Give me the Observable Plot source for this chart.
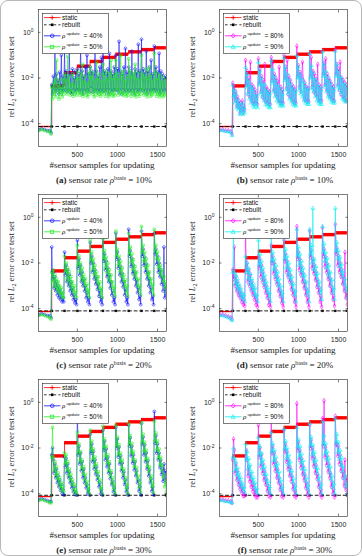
<!DOCTYPE html>
<html>
<head>
<meta charset="utf-8">
<script src="https://cdn.jsdelivr.net/npm/d3@7"></script>
<script src="https://cdn.jsdelivr.net/npm/@observablehq/plot@0.6"></script>
<style>
  body { margin: 0; background: #fff; }
  #fig { position: relative; width: 362px; height: 556px; background: #fff; overflow: hidden; }
  #fig::after { content: ""; position: absolute; inset: 0; border: 1px solid #b8b8b8; border-radius: 8px; pointer-events: none; }
  .cell { position: absolute; width: 181px; height: 185px; }
  .cell > svg { position: absolute; left: 0; top: 0; overflow: visible; }
  .ylab { position: absolute; left: 11px; top: 77px; transform: translate(-50%, -50%) rotate(-90deg);
          font: 8.6px "Liberation Serif", "DejaVu Serif", serif; white-space: nowrap; color: #222; }
  .xlab { position: absolute; left: 102px; top: 165px; transform: translate(-50%, -50%);
          font: 9px "Liberation Serif", "DejaVu Serif", serif; white-space: nowrap; color: #222; }
  .cap { position: absolute; left: 104px; top: 180px; transform: translate(-50%, -50%);
         font: 9px "Liberation Serif", "DejaVu Serif", serif; white-space: nowrap; color: #222; }
  .sup { font-size: 6px; position: relative; top: -3.5px; }
  .sub { font-size: 6px; position: relative; top: 2px; }
  .legend { position: absolute; left: 42px; top: 13px; }
</style>
</head>
<body>
<div id="fig"></div>
<script>
// sample counts at which the update errors are recorded
const samples = [20, 55, 90, 125, 155, 172,
  180, 190, 200, 210, 220, 230, 240, 250, 260, 270, 280, 290, 300, 310, 320, 330,
  340, 350, 360, 370, 380, 390, 400, 410, 420, 430, 440, 450, 460, 470, 480, 490,
  500, 510, 520, 530, 540, 550, 560, 570, 580, 590, 600, 610, 620, 630, 640, 650,
  660, 670, 680, 690, 700, 710, 720, 730, 740, 750, 760, 770, 780, 790, 800, 810,
  820, 830, 840, 850, 860, 870, 880, 890, 900, 910, 920, 930, 940, 950, 960, 970,
  980, 990, 1000, 1010, 1020, 1030, 1040, 1050, 1060, 1070, 1080, 1090, 1100, 1110, 1120, 1130,
  1140, 1150, 1160, 1170, 1180, 1190, 1200, 1210, 1220, 1230, 1240, 1250, 1260, 1270, 1280, 1290,
  1300, 1310, 1320, 1330, 1340, 1350, 1360, 1370, 1380, 1390, 1400, 1410, 1420, 1430, 1440, 1450,
  1460, 1470, 1480, 1490, 1500, 1510, 1520, 1530, 1540, 1550, 1560, 1570, 1580, 1590, 1600, 1610];

const xTicks = [500, 1000, 1500];
const yTicks = [1e-4, 1e-2, 1];

// static basis: piecewise constant error between basis refreshes
const staticX = [20, 180, 340, 500, 660, 820, 980, 1140, 1300, 1460, 1610];
const staticLevel = [7.5e-5, 4.5e-3, 1.7e-2, 3.3e-2, 5.3e-2, 8e-2, 0.11, 0.14, 0.175, 0.21];

// rebuilt basis: evaluated at each refresh, one level per basis sensor rate (10%, 20%, 30%)
const rebuiltX = [20, 180, 340, 500, 660, 820, 980, 1140, 1300, 1460, 1605];
const rebuiltLevels = [7.5e-5, 8e-5, 8.5e-5];

// ---- basis rate 10% ----
const upd40_r10 = [5.5e-5, 6e-5, 5.5e-5, 5e-5, 5e-5, 4e-5,
  5e-3, 2e-3, 1.2e-2, 3e-3, 0.2, 2.5e-3, 1.5e-2, 3e-3, 8e-3, 2e-3, 1.8e-2, 3e-3, 0.1, 2.5e-3, 1.2e-2, 3e-3,
  0.14, 3e-3, 2e-2, 2.5e-3, 1.2e-2, 3e-3, 0.15, 2.5e-3, 1.5e-2, 2e-3, 2.5e-2, 3e-3, 1e-2, 2.5e-3, 2e-2, 3e-3,
  2.5e-2, 3e-3, 1.5e-2, 2.5e-3, 0.2, 3e-3, 2e-2, 2e-3, 1.2e-2, 3e-3, 3e-2, 2.5e-3, 0.1, 3e-3, 1.5e-2, 2.5e-3,
  3e-2, 3.5e-3, 2e-2, 2.5e-3, 1.5e-2, 3e-3, 0.25, 2.5e-3, 2e-2, 3e-3, 1.2e-2, 2.5e-3, 3e-2, 3e-3, 0.08, 2.5e-3,
  0.3, 3e-3, 2e-2, 2.5e-3, 1.5e-2, 3e-3, 2.5e-2, 2e-3, 0.12, 3e-3, 2e-2, 2.5e-3, 1.5e-2, 3e-3, 3e-2, 3e-3,
  0.1, 3e-3, 2.5e-2, 2.5e-3, 0.4, 3e-3, 2e-2, 2e-3, 1.5e-2, 3e-3, 3e-2, 2.5e-3, 0.2, 3e-3, 1.8e-2, 2.5e-3,
  3e-2, 3e-3, 2e-2, 2.5e-3, 0.15, 3e-3, 1.5e-2, 2e-3, 2.5e-2, 3e-3, 1.8e-2, 2.5e-3, 0.3, 3e-3, 2e-2, 3e-3,
  0.5, 3e-3, 2.5e-2, 2.5e-3, 1.8e-2, 3e-3, 0.15, 2e-3, 2e-2, 3e-3, 3e-2, 2.5e-3, 0.06, 3e-3, 1.5e-2, 3e-3,
  0.25, 3e-3, 3e-2, 2.5e-3, 1.8e-2, 3e-3, 0.12, 2e-3, 2e-2, 3e-3, 1.5e-2, 2.5e-3, 1e-2, 3e-3, 1.2e-2, 3e-3];
const upd50_r10 = [5e-5, 5.5e-5, 5e-5, 4.5e-5, 4.5e-5, 3.5e-5,
  4e-3, 1.2e-3, 6e-3, 2e-3, 9e-3, 1.5e-3, 0.06, 2.5e-3, 5e-3, 1.2e-3, 8e-3, 2e-3, 4e-3, 1.5e-3, 1e-2, 2e-3,
  1.5e-2, 3e-3, 8e-3, 2e-3, 0.09, 2.5e-3, 1.2e-2, 1.8e-3, 6e-3, 2.5e-3, 1.5e-2, 1.6e-3, 5e-3, 2e-3, 9e-3, 1.8e-3,
  2e-2, 2.5e-3, 1e-2, 1.8e-3, 1.5e-2, 2e-3, 4e-2, 1.6e-3, 7e-3, 2.5e-3, 1.2e-2, 1.8e-3, 6e-3, 1.5e-3, 1.8e-2, 2e-3,
  3e-2, 3e-3, 1.2e-2, 2e-3, 1.8e-2, 1.5e-3, 8e-3, 2.5e-3, 5e-2, 1.8e-3, 1e-2, 2e-3, 1.5e-2, 1.6e-3, 7e-3, 2e-3,
  4e-2, 2.5e-3, 1.4e-2, 1.6e-3, 2e-2, 2.2e-3, 9e-3, 1.5e-3, 1.6e-2, 2e-3, 6e-2, 1.8e-3, 1e-2, 1.6e-3, 1.4e-2, 1.8e-3,
  6e-2, 3e-3, 1.6e-2, 1.8e-3, 1e-2, 2.5e-3, 0.1, 2e-3, 1.4e-2, 1.7e-3, 2e-2, 2e-3, 8e-3, 1.6e-3, 1.2e-2, 1.8e-3,
  7e-2, 2.5e-3, 2e-2, 1.6e-3, 1.2e-2, 2.2e-3, 1.6e-2, 1.8e-3, 4e-2, 1.5e-3, 1e-2, 2e-3, 1.8e-2, 1.6e-3, 9e-3, 2e-3,
  0.1, 3e-3, 1.6e-2, 1.8e-3, 1.2e-2, 2e-3, 2.5e-2, 1.5e-3, 1e-2, 2.2e-3, 3e-2, 1.6e-3, 1.4e-2, 1.8e-3, 8e-3, 2e-3,
  0.12, 2.5e-3, 1.8e-2, 1.6e-3, 1e-2, 2e-3, 1.5e-2, 1.5e-3, 8e-3, 1.8e-3, 1.2e-2, 1.5e-3, 6e-3, 1.8e-3, 9e-3, 2e-3];
const upd80_r10 = [5.5e-5, 5.5e-5, 5e-5, 5e-5, 4.5e-5, 3.5e-5,
  6e-3, 1.5e-3, 4e-3, 1e-3, 2.5e-3, 6e-4, 1.5e-3, 5e-4, 1e-3, 3e-4, 8e-4, 4e-4, 1e-3, 3e-4, 6e-4, 4e-4,
  0.06, 5e-3, 2e-2, 2e-3, 1e-2, 1.5e-3, 0.05, 1e-3, 5e-3, 8e-4, 4e-3, 7e-4, 3e-3, 8e-4, 2e-3, 7e-4,
  0.07, 6e-3, 2.5e-2, 2.5e-3, 1.2e-2, 1.5e-3, 8e-3, 1.2e-3, 0.04, 9e-4, 4e-3, 8e-4, 3e-3, 7e-4, 2.5e-3, 7e-4,
  0.08, 8e-3, 0.05, 3e-3, 1.5e-2, 2e-3, 1e-2, 1.5e-3, 7e-3, 1e-3, 0.03, 8e-4, 4e-3, 8e-4, 3e-3, 8e-4,
  0.1, 1e-2, 3e-2, 3.5e-3, 0.06, 2e-3, 1.2e-2, 1.5e-3, 8e-3, 1.2e-3, 5e-3, 9e-4, 4e-3, 8e-4, 3e-3, 8e-4,
  0.25, 1.2e-2, 3.5e-2, 4e-3, 1.8e-2, 2.5e-3, 1.2e-2, 0.05, 8e-3, 1.2e-3, 6e-3, 1e-3, 4e-3, 9e-4, 3.5e-3, 9e-4,
  0.12, 1.2e-2, 0.08, 4e-3, 2e-2, 2.5e-3, 1.5e-2, 2e-3, 9e-3, 1.5e-3, 0.04, 1e-3, 5e-3, 1e-3, 4e-3, 1e-3,
  0.15, 1.5e-2, 4.5e-2, 5e-3, 0.07, 3e-3, 1.5e-2, 2e-3, 1e-2, 1.5e-3, 7e-3, 1.2e-3, 5e-3, 1e-3, 4e-3, 1e-3,
  0.18, 1.5e-2, 4e-2, 5e-3, 2.5e-2, 3e-3, 0.05, 2e-3, 1e-2, 1.5e-3, 8e-3, 1.2e-3, 6e-3, 1e-3, 5e-3, 1e-3];
const upd90_r10 = [5e-5, 5e-5, 4.5e-5, 4.5e-5, 4e-5, 3e-5,
  5e-3, 1.5e-3, 3e-3, 8e-4, 2e-3, 5e-4, 1.2e-3, 4e-4, 8e-4, 2.5e-4, 6e-4, 3e-4, 8e-4, 2.5e-4, 5e-4, 3e-4,
  3e-2, 4e-3, 1.5e-2, 2e-3, 8e-3, 1.2e-3, 5e-3, 8e-4, 4e-3, 6e-4, 3e-3, 5e-4, 2e-3, 6e-4, 1.5e-3, 5e-4,
  5e-2, 5e-3, 2e-2, 2e-3, 1e-2, 1.5e-3, 6e-3, 1e-3, 5e-3, 7e-4, 3e-3, 6e-4, 2.5e-3, 5e-4, 2e-3, 5e-4,
  6e-2, 6e-3, 2.5e-2, 2.5e-3, 1.2e-2, 1.5e-3, 8e-3, 1e-3, 5e-3, 8e-4, 4e-3, 6e-4, 3e-3, 6e-4, 2e-3, 6e-4,
  8e-2, 8e-3, 3e-2, 3e-3, 1.5e-2, 2e-3, 9e-3, 1.2e-3, 6e-3, 9e-4, 4e-3, 7e-4, 3e-3, 6e-4, 2.5e-3, 6e-4,
  0.1, 1e-2, 3e-2, 3e-3, 1.5e-2, 2e-3, 1e-2, 1.5e-3, 7e-3, 1e-3, 5e-3, 8e-4, 3.5e-3, 7e-4, 3e-3, 7e-4,
  0.12, 1e-2, 3.5e-2, 3.5e-3, 1.8e-2, 2.5e-3, 1e-2, 1.5e-3, 8e-3, 1e-3, 5e-3, 8e-4, 4e-3, 7e-4, 3e-3, 7e-4,
  0.15, 1.2e-2, 4e-2, 4e-3, 2e-2, 2.5e-3, 1.2e-2, 1.5e-3, 8e-3, 1.2e-3, 6e-3, 9e-4, 4e-3, 8e-4, 3e-3, 8e-4,
  0.15, 1.2e-2, 4e-2, 4e-3, 2e-2, 3e-3, 1.2e-2, 2e-3, 9e-3, 1.2e-3, 6e-3, 1e-3, 5e-3, 9e-4, 4e-3, 9e-4];

// ---- basis rate 20% ----
const upd40_r20 = [5.5e-5, 6e-5, 5.5e-5, 5e-5, 5e-5, 4e-5,
  0.05, 2e-3, 4e-3, 8e-4, 2.5e-3, 6e-4, 1.5e-3, 4e-4, 1e-3, 3e-4, 7e-4, 2.5e-4, 5e-4, 2e-4, 3e-4, 2e-4,
  3e-2, 3e-3, 8e-3, 1.5e-3, 5e-3, 1e-3, 3e-3, 6e-4, 1.5e-3, 4e-4, 8e-4, 2.5e-4, 4e-4, 1.8e-4, 2.5e-4, 1.5e-4,
  0.1, 6e-3, 1.5e-2, 3e-3, 8e-3, 1.5e-3, 4e-3, 1e-3, 2e-3, 6e-4, 1e-3, 3e-4, 5e-4, 2e-4, 3e-4, 1.5e-4,
  0.08, 1e-2, 2e-2, 4e-3, 1e-2, 2e-3, 5e-3, 1.2e-3, 2.5e-3, 7e-4, 1.2e-3, 3.5e-4, 6e-4, 2e-4, 3e-4, 1.5e-4,
  0.15, 1.2e-2, 2.5e-2, 5e-3, 1.2e-2, 2.5e-3, 6e-3, 1.5e-3, 3e-3, 8e-4, 1.5e-3, 4e-4, 6e-4, 2e-4, 3e-4, 1.5e-4,
  0.2, 1.5e-2, 3e-2, 6e-3, 1.5e-2, 3e-3, 7e-3, 1.5e-3, 3.5e-3, 9e-4, 1.5e-3, 4e-4, 7e-4, 2e-4, 3e-4, 1.5e-4,
  0.3, 2e-2, 3.5e-2, 7e-3, 1.6e-2, 3.5e-3, 8e-3, 2e-3, 4e-3, 1e-3, 1.8e-3, 5e-4, 8e-4, 2.5e-4, 3.5e-4, 1.5e-4,
  0.25, 2e-2, 4e-2, 8e-3, 1.8e-2, 4e-3, 9e-3, 2e-3, 4e-3, 1e-3, 2e-3, 5e-4, 8e-4, 2.5e-4, 3.5e-4, 1.5e-4,
  0.2, 2.5e-2, 4e-2, 9e-3, 2e-2, 4e-3, 1e-2, 2.5e-3, 5e-3, 1.2e-3, 2.5e-3, 6e-4, 0.05, 3e-4, 1e-3, 4e-4];
const upd50_r20 = [5e-5, 5.5e-5, 5e-5, 4.5e-5, 4e-5, 3.5e-5,
  4e-3, 1.5e-3, 5e-3, 1e-3, 3e-3, 8e-4, 2e-3, 6e-4, 1.5e-3, 5e-4, 1e-3, 4e-4, 8e-4, 3e-4, 5e-4, 3e-4,
  2e-2, 4e-3, 1e-2, 2e-3, 6e-3, 1.5e-3, 4e-3, 1e-3, 2.5e-3, 7e-4, 1.5e-3, 5e-4, 1e-3, 3.5e-4, 6e-4, 3e-4,
  6e-2, 8e-3, 2e-2, 4e-3, 1e-2, 2e-3, 6e-3, 1.5e-3, 3e-3, 1e-3, 2e-3, 6e-4, 1.2e-3, 4e-4, 7e-4, 3e-4,
  0.1, 1.2e-2, 3e-2, 5e-3, 1.5e-2, 3e-3, 8e-3, 2e-3, 4e-3, 1.2e-3, 2.5e-3, 7e-4, 1.5e-3, 4e-4, 8e-4, 3e-4,
  0.12, 1.5e-2, 3.5e-2, 6e-3, 1.8e-2, 3.5e-3, 1e-2, 2e-3, 5e-3, 1.5e-3, 3e-3, 8e-4, 1.5e-3, 5e-4, 9e-4, 3.5e-4,
  0.25, 2e-2, 4e-2, 8e-3, 2e-2, 4e-3, 1.2e-2, 2.5e-3, 6e-3, 1.5e-3, 3e-3, 9e-4, 1.8e-3, 5e-4, 1e-3, 3.5e-4,
  0.2, 2.5e-2, 5e-2, 1e-2, 2.5e-2, 5e-3, 1.4e-2, 3e-3, 7e-3, 2e-3, 4e-3, 1e-3, 2e-3, 6e-4, 1e-3, 4e-4,
  0.4, 3e-2, 6e-2, 1.2e-2, 3e-2, 6e-3, 1.5e-2, 3e-3, 8e-3, 2e-3, 4e-3, 1.2e-3, 2e-3, 6e-4, 1.2e-3, 4e-4,
  0.3, 3.5e-2, 6e-2, 1.5e-2, 3e-2, 6e-3, 1.6e-2, 3.5e-3, 8e-3, 2.5e-3, 5e-3, 1.5e-3, 2.5e-3, 8e-4, 1.5e-3, 5e-4];
const upd80_r20 = [5.5e-5, 5.5e-5, 5e-5, 4.5e-5, 4e-5, 3.5e-5,
  5e-3, 2e-3, 0.05, 1e-3, 2.5e-3, 6e-4, 1.5e-3, 4e-4, 9e-4, 3e-4, 6e-4, 2e-4, 4e-4, 1.5e-4, 2.5e-4, 1.3e-4,
  0.3, 4e-3, 1e-2, 1.5e-3, 5e-3, 1e-3, 3e-3, 6e-4, 1.5e-3, 4e-4, 8e-4, 2.5e-4, 4e-4, 1.5e-4, 2.5e-4, 1.2e-4,
  2e-2, 6e-3, 1.5e-2, 2.5e-3, 8e-3, 1.5e-3, 4e-3, 9e-4, 2e-3, 5e-4, 1e-3, 3e-4, 5e-4, 1.5e-4, 2.5e-4, 1.2e-4,
  0.06, 1e-2, 2e-2, 3.5e-3, 1e-2, 2e-3, 5e-3, 1.2e-3, 2.5e-3, 6e-4, 1.2e-3, 3.5e-4, 6e-4, 1.8e-4, 3e-4, 1.2e-4,
  0.1, 1.2e-2, 2.5e-2, 4e-3, 1.2e-2, 2.5e-3, 6e-3, 1.5e-3, 3e-3, 7e-4, 1.5e-3, 4e-4, 6e-4, 2e-4, 3e-4, 1.2e-4,
  0.4, 1.5e-2, 3e-2, 5e-3, 1.5e-2, 3e-3, 7e-3, 1.5e-3, 3.5e-3, 8e-4, 1.5e-3, 4e-4, 7e-4, 2e-4, 3e-4, 1.2e-4,
  0.25, 1.8e-2, 3.5e-2, 6e-3, 1.5e-2, 3.5e-3, 8e-3, 1.8e-3, 4e-3, 9e-4, 1.8e-3, 5e-4, 8e-4, 2e-4, 3.5e-4, 1.2e-4,
  0.35, 2e-2, 4e-2, 7e-3, 1.8e-2, 4e-3, 9e-3, 2e-3, 4e-3, 1e-3, 2e-3, 5e-4, 8e-4, 2.5e-4, 3.5e-4, 1.3e-4,
  0.5, 2.5e-2, 4.5e-2, 8e-3, 2e-2, 4e-3, 1e-2, 2.5e-3, 5e-3, 1.2e-3, 2.5e-3, 6e-4, 3e-2, 3e-4, 5e-4, 1.5e-4];
const upd90_r20 = [5e-5, 5e-5, 4.5e-5, 4e-5, 3.5e-5, 3e-5,
  4e-3, 0.2, 4e-3, 1.2e-3, 3e-3, 8e-4, 2e-3, 6e-4, 1.2e-3, 4e-4, 8e-4, 3e-4, 5e-4, 2.5e-4, 4e-4, 2e-4,
  2e-2, 4e-3, 1e-2, 2e-3, 6e-3, 1.2e-3, 3.5e-3, 8e-4, 2e-3, 6e-4, 1.2e-3, 4e-4, 8e-4, 3e-4, 4e-4, 2e-4,
  0.1, 8e-3, 2.5e-2, 4e-3, 1.2e-2, 2e-3, 6e-3, 1.2e-3, 3e-3, 8e-4, 1.5e-3, 5e-4, 8e-4, 3e-4, 5e-4, 2e-4,
  0.2, 1.2e-2, 3e-2, 5e-3, 1.5e-2, 2.5e-3, 8e-3, 1.5e-3, 4e-3, 1e-3, 2e-3, 6e-4, 1e-3, 3.5e-4, 5e-4, 2e-4,
  0.15, 1.5e-2, 4e-2, 6e-3, 2e-2, 3e-3, 1e-2, 2e-3, 5e-3, 1.2e-3, 2.5e-3, 7e-4, 1.2e-3, 4e-4, 6e-4, 2e-4,
  0.3, 2e-2, 5e-2, 8e-3, 2.5e-2, 4e-3, 1.2e-2, 2.5e-3, 6e-3, 1.5e-3, 3e-3, 8e-4, 1.5e-3, 4e-4, 6e-4, 2e-4,
  0.3, 2.5e-2, 6e-2, 1e-2, 2.5, 5e-3, 1.5e-2, 3e-3, 7e-3, 1.8e-3, 3.5e-3, 1e-3, 1.5e-3, 5e-4, 7e-4, 2.5e-4,
  0.4, 3e-2, 7e-2, 1.2e-2, 3e-2, 6e-3, 1.6e-2, 3e-3, 8e-3, 2e-3, 4e-3, 1e-3, 1.8e-3, 5e-4, 8e-4, 2.5e-4,
  2.5, 3.5e-2, 8e-2, 1.5e-2, 3.5e-2, 7e-3, 1.8e-2, 3.5e-3, 9e-3, 2.5e-3, 4.5e-3, 1.2e-3, 2e-3, 6e-4, 1e-3, 3e-4];

// ---- basis rate 30% ----
const upd40_r30 = [5.5e-5, 6e-5, 5.5e-5, 5e-5, 4.5e-5, 4.5e-5,
  5e-3, 1e-2, 3e-3, 8e-4, 2e-3, 5e-4, 1.2e-3, 3e-4, 6e-4, 2e-4, 4e-4, 1.4e-4, 2.5e-4, 1e-4, 1.5e-4, 9e-5,
  4e-3, 1.5e-3, 3.5e-3, 8e-4, 2e-3, 5e-4, 9e-4, 3e-4, 5e-4, 1.8e-4, 3e-4, 1.2e-4, 2e-4, 9e-5, 1.2e-4, 9e-5,
  0.4, 5e-3, 1.2e-2, 2e-3, 6e-3, 1e-3, 2.5e-3, 5e-4, 1.2e-3, 3e-4, 5e-4, 1.8e-4, 2.5e-4, 1e-4, 1.5e-4, 9e-5,
  0.04, 6e-3, 1.5e-2, 2.5e-3, 7e-3, 1.2e-3, 3e-3, 7e-4, 1.5e-3, 4e-4, 6e-4, 2e-4, 3e-4, 1e-4, 1.5e-4, 9e-5,
  0.06, 8e-3, 2e-2, 3e-3, 9e-3, 1.5e-3, 4e-3, 8e-4, 2e-3, 4.5e-4, 8e-4, 2.5e-4, 3.5e-4, 1.2e-4, 1.8e-4, 9e-5,
  0.08, 1e-2, 2.5e-2, 4e-3, 1.1e-2, 2e-3, 4.5e-3, 1e-3, 2.2e-3, 5e-4, 9e-4, 2.5e-4, 4e-4, 1.2e-4, 1.8e-4, 9e-5,
  0.1, 1.2e-2, 2.8e-2, 4.5e-3, 1.2e-2, 2.2e-3, 5e-3, 1.1e-3, 2.5e-3, 6e-4, 1e-3, 3e-4, 4e-4, 1.3e-4, 2e-4, 9e-5,
  0.12, 1.4e-2, 3e-2, 5e-3, 1.4e-2, 2.5e-3, 6e-3, 1.2e-3, 2.8e-3, 6e-4, 1.1e-3, 3e-4, 4.5e-4, 1.3e-4, 2e-4, 9e-5,
  0.4, 1.6e-2, 3.5e-2, 6e-3, 1.5e-2, 3e-3, 6e-3, 1.4e-3, 3e-3, 7e-4, 1.2e-3, 3.5e-4, 2e-3, 4e-4, 1e-3, 3e-4];
const upd50_r30 = [5e-5, 5.5e-5, 5e-5, 4.5e-5, 4e-5, 4e-5,
  4e-3, 0.08, 4e-3, 1e-3, 2.5e-3, 6e-4, 1.5e-3, 4e-4, 8e-4, 2.5e-4, 5e-4, 1.8e-4, 3e-4, 1.3e-4, 2e-4, 1.2e-4,
  6e-3, 2e-3, 5e-3, 1e-3, 2.5e-3, 6e-4, 1.2e-3, 4e-4, 7e-4, 2.5e-4, 4e-4, 1.5e-4, 2.5e-4, 1.1e-4, 1.5e-4, 1e-4,
  0.05, 6e-3, 1.5e-2, 2.5e-3, 7e-3, 1.2e-3, 3e-3, 7e-4, 1.5e-3, 4e-4, 7e-4, 2.5e-4, 3.5e-4, 1.3e-4, 2e-4, 1e-4,
  0.06, 8e-3, 2e-2, 3e-3, 9e-3, 1.5e-3, 4e-3, 9e-4, 2e-3, 5e-4, 9e-4, 3e-4, 4e-4, 1.5e-4, 2e-4, 1e-4,
  0.09, 1e-2, 2.5e-2, 4e-3, 1.2e-2, 2e-3, 5e-3, 1e-3, 2.5e-3, 6e-4, 1e-3, 3e-4, 5e-4, 1.5e-4, 2.5e-4, 1e-4,
  0.1, 1.2e-2, 3e-2, 5e-3, 1.4e-2, 2.5e-3, 6e-3, 1.2e-3, 3e-3, 7e-4, 1.2e-3, 3.5e-4, 5e-4, 1.6e-4, 2.5e-4, 1e-4,
  0.12, 1.5e-2, 3.5e-2, 6e-3, 1.6e-2, 3e-3, 7e-3, 1.5e-3, 3e-3, 8e-4, 1.4e-3, 4e-4, 6e-4, 1.8e-4, 3e-4, 1.1e-4,
  0.13, 1.8e-2, 4e-2, 7e-3, 1.8e-2, 3e-3, 8e-3, 1.5e-3, 3.5e-3, 9e-4, 1.5e-3, 4e-4, 6e-4, 2e-4, 3e-4, 1.1e-4,
  0.15, 2e-2, 4.5e-2, 8e-3, 2e-2, 3.5e-3, 9e-3, 1.8e-3, 4e-3, 1e-3, 1.8e-3, 5e-4, 7e-4, 2e-4, 3.5e-4, 1.2e-4];
const upd80_r30 = [5.5e-5, 5.5e-5, 5e-5, 5e-5, 4.5e-5, 4e-5,
  3e-3, 2.5e-2, 8e-3, 8e-4, 2e-3, 4e-4, 1e-3, 2.5e-4, 5e-4, 1.6e-4, 3e-4, 1.1e-4, 2e-4, 8e-5, 1.2e-4, 8e-5,
  4e-3, 8e-3, 3e-3, 6e-4, 1.5e-3, 3.5e-4, 7e-4, 2e-4, 4e-4, 1.3e-4, 2.5e-4, 9e-5, 1.5e-4, 7e-5, 1e-4, 7e-5,
  0.1, 4e-3, 1e-2, 1.5e-3, 5e-3, 8e-4, 2e-3, 4e-4, 1e-3, 2.5e-4, 4.5e-4, 1.3e-4, 2.2e-4, 8e-5, 1.2e-4, 7e-5,
  0.25, 6e-3, 1.2e-2, 2e-3, 6e-3, 1e-3, 2.5e-3, 5e-4, 1.2e-3, 3e-4, 5e-4, 1.5e-4, 2.5e-4, 8e-5, 1.3e-4, 7e-5,
  0.06, 7e-3, 1.5e-2, 2.5e-3, 7e-3, 1.2e-3, 3e-3, 6e-4, 1.4e-3, 3.5e-4, 6e-4, 1.6e-4, 2.6e-4, 8e-5, 1.3e-4, 7e-5,
  0.9, 8e-3, 1.8e-2, 3e-3, 8e-3, 1.4e-3, 3.5e-3, 7e-4, 1.6e-3, 4e-4, 7e-4, 1.8e-4, 3e-4, 9e-5, 1.4e-4, 7e-5,
  0.1, 1e-2, 2.2e-2, 3.5e-3, 1e-2, 1.6e-3, 4e-3, 8e-4, 1.8e-3, 4.5e-4, 7e-4, 2e-4, 3e-4, 9e-5, 1.5e-4, 7e-5,
  0.2, 1.2e-2, 1.2, 4e-3, 1.1e-2, 1.8e-3, 4.5e-3, 9e-4, 2e-3, 5e-4, 8e-4, 2e-4, 3.2e-4, 1e-4, 1.5e-4, 7e-5,
  0.25, 1.4e-2, 1.5e-2, 4.5e-3, 1.2e-2, 2e-3, 5e-3, 1e-3, 2.2e-3, 5e-4, 9e-4, 2.2e-4, 3e-3, 1.5e-4, 5e-4, 1e-4];
const upd90_r30 = [5e-5, 5e-5, 4.5e-5, 4.5e-5, 4e-5, 4e-5,
  4e-3, 1e-2, 3.5e-3, 1e-3, 2.5e-3, 6e-4, 1.4e-3, 4e-4, 8e-4, 2.5e-4, 5e-4, 1.8e-4, 3e-4, 1.3e-4, 2e-4, 1.1e-4,
  1.5e-2, 3e-3, 7e-3, 1.2e-3, 3.5e-3, 7e-4, 1.8e-3, 4.5e-4, 9e-4, 3e-4, 5e-4, 1.8e-4, 3e-4, 1.2e-4, 1.7e-4, 1e-4,
  3e-2, 5e-3, 1.2e-2, 2e-3, 6e-3, 1.2e-3, 3e-3, 7e-4, 1.5e-3, 4e-4, 7e-4, 2.5e-4, 3.5e-4, 1.3e-4, 2e-4, 1e-4,
  0.05, 7e-3, 1.6e-2, 2.8e-3, 8e-3, 1.5e-3, 4e-3, 9e-4, 2e-3, 5e-4, 9e-4, 3e-4, 4e-4, 1.5e-4, 2e-4, 1e-4,
  0.07, 9e-3, 2e-2, 3.5e-3, 1e-2, 1.8e-3, 5e-3, 1e-3, 2.5e-3, 6e-4, 1e-3, 3e-4, 4.5e-4, 1.5e-4, 2.2e-4, 1e-4,
  0.08, 1.1e-2, 2.4e-2, 4e-3, 1.2e-2, 2.2e-3, 5.5e-3, 1.2e-3, 2.8e-3, 7e-4, 1.2e-3, 3.5e-4, 5e-4, 1.6e-4, 2.4e-4, 1e-4,
  0.12, 1.3e-2, 3e-2, 5e-3, 1.4e-2, 2.5e-3, 6.5e-3, 1.4e-3, 3e-3, 8e-4, 1.3e-3, 4e-4, 5.5e-4, 1.8e-4, 2.6e-4, 1e-4,
  0.15, 1.5e-2, 3.5e-2, 5.5e-3, 1.6e-2, 3e-3, 7e-3, 1.5e-3, 3.5e-3, 8e-4, 1.5e-3, 4e-4, 6e-4, 1.8e-4, 2.8e-4, 1e-4,
  0.2, 1.8e-2, 4e-2, 6.5e-3, 1.8e-2, 3.2e-3, 8e-3, 1.7e-3, 3.8e-3, 9e-4, 1.6e-3, 4.5e-4, 6.5e-4, 2e-4, 3e-4, 1e-4];

const COLORS = { red: "#ff0000", blue: "#1010ff", green: "#22ee22", magenta: "#ff00ff", cyan: "#00f0f0", black: "#000" };

const panels = [
  { tag: "(a)", rate: "10%", row: 0, col: 0, series: [
    { label: "40%", values: upd40_r10, color: COLORS.blue, symbol: "circle" },
    { label: "50%", values: upd50_r10, color: COLORS.green, symbol: "square" } ] },
  { tag: "(b)", rate: "10%", row: 0, col: 1, series: [
    { label: "80%", values: upd80_r10, color: COLORS.magenta, symbol: "diamond" },
    { label: "90%", values: upd90_r10, color: COLORS.cyan, symbol: "triangle" } ] },
  { tag: "(c)", rate: "20%", row: 1, col: 0, series: [
    { label: "40%", values: upd40_r20, color: COLORS.blue, symbol: "circle" },
    { label: "50%", values: upd50_r20, color: COLORS.green, symbol: "square" } ] },
  { tag: "(d)", rate: "20%", row: 1, col: 1, series: [
    { label: "80%", values: upd80_r20, color: COLORS.magenta, symbol: "diamond" },
    { label: "90%", values: upd90_r20, color: COLORS.cyan, symbol: "triangle" } ] },
  { tag: "(e)", rate: "30%", row: 2, col: 0, series: [
    { label: "40%", values: upd40_r30, color: COLORS.blue, symbol: "circle" },
    { label: "50%", values: upd50_r30, color: COLORS.green, symbol: "square" } ] },
  { tag: "(f)", rate: "30%", row: 2, col: 1, series: [
    { label: "80%", values: upd80_r30, color: COLORS.magenta, symbol: "diamond" },
    { label: "90%", values: upd90_r30, color: COLORS.cyan, symbol: "triangle" } ] }
];

const staticSteps = staticLevel.map((y, i) => ({ x1: staticX[i], x2: staticX[i + 1], y, first: i === 0 }));
const staticPts = staticLevel.map((y, i) => ({ x: staticX[i], y })).concat([{ x: staticX[staticX.length - 1], y: staticLevel[staticLevel.length - 1] }]);

// small marker glyphs for the legend
function markerSvg(symbol, cx, cy, color) {
  switch (symbol) {
    case "plus": return `<path d="M${cx - 2.2},${cy}H${cx + 2.2}M${cx},${cy - 2.2}V${cy + 2.2}" stroke="${color}" stroke-width="0.9"/>`;
    case "filledSquare": return `<rect x="${cx - 1.3}" y="${cy - 1.3}" width="2.6" height="2.6" fill="${color}"/>`;
    case "circle": return `<circle cx="${cx}" cy="${cy}" r="1.8" fill="none" stroke="${color}" stroke-width="0.7"/>`;
    case "square": return `<rect x="${cx - 1.6}" y="${cy - 1.6}" width="3.2" height="3.2" fill="none" stroke="${color}" stroke-width="0.7"/>`;
    case "diamond": return `<path d="M${cx},${cy - 2.2}L${cx + 2},${cy}L${cx},${cy + 2.2}L${cx - 2},${cy}Z" fill="none" stroke="${color}" stroke-width="0.7"/>`;
    case "triangle": return `<path d="M${cx},${cy - 2.1}L${cx + 2},${cy + 1.5}L${cx - 2},${cy + 1.5}Z" fill="none" stroke="${color}" stroke-width="0.7"/>`;
  }
  return "";
}

function legendSvg(series) {
  const rows = [
    { y: 4.6, color: COLORS.red, dash: null, symbol: "plus", text: `<tspan>static</tspan>` },
    { y: 11.8, color: COLORS.black, dash: "2.6,2.2", symbol: "filledSquare", text: `<tspan>rebuilt</tspan>` },
    ...series.map((s, i) => ({
      y: 22.8 + 11 * i, color: s.color, dash: null, symbol: s.symbol,
      text: `<tspan font-family="'Liberation Serif',serif" font-style="italic" font-size="7">ρ</tspan><tspan font-size="4.3" dy="-3" dx="1">update</tspan><tspan x="41.5" dy="3">= ${s.label}</tspan>`
    }))
  ];
  let s = `<svg width="67" height="41" xmlns="http://www.w3.org/2000/svg" font-family="'Liberation Sans',Arial,sans-serif" font-size="6.6" fill="#111">`;
  s += `<rect x="0.5" y="0.5" width="66" height="40" fill="#fff" stroke="#262626" stroke-width="0.6"/>`;
  for (const r of rows) {
    s += `<line x1="2" x2="18.5" y1="${r.y}" y2="${r.y}" stroke="${r.color}" stroke-width="0.8"${r.dash ? ` stroke-dasharray="${r.dash}"` : ""}/>`;
    s += markerSvg(r.symbol, 10.2, r.y, r.color);
    s += `<text x="20" y="${r.y}" dy="0.33em">${r.text}</text>`;
  }
  return s + `</svg>`;
}

const fig = document.getElementById("fig");

for (const p of panels) {
  const rebuiltY = rebuiltLevels[p.row];
  const rebuilt = rebuiltX.map(x => ({ x, y: rebuiltY }));
  const seriesMarks = p.series.flatMap(s => {
    const pts = samples.map((x, i) => ({ x, y: s.values[i] }));
    return [
      Plot.line(pts, { x: "x", y: "y", stroke: s.color, strokeWidth: 0.6, clip: true }),
      Plot.dot(pts, { x: "x", y: "y", stroke: s.color, symbol: s.symbol, r: 1.4, strokeWidth: 0.55, fill: "none", clip: true })
    ];
  });

  const chart = Plot.plot({
    width: 181,
    height: 166,
    marginLeft: 38,
    marginRight: 15,
    marginTop: 9,
    marginBottom: 20,
    style: { fontFamily: "'Liberation Sans', Arial, sans-serif", fontSize: "7px", color: "#262626", background: "transparent" },
    x: { domain: [15, 1612] },
    y: { type: "log", domain: [1e-5, 10] },
    marks: [
      Plot.ruleY(staticSteps, { x1: "x1", x2: "x2", y: "y", stroke: COLORS.red, strokeWidth: d => d.first ? 1.4 : 3.4, clip: true }),
      Plot.line(staticPts, { x: "x", y: "y", curve: "step-after", stroke: COLORS.red, strokeWidth: 0.8, clip: true }),
      Plot.line(rebuilt, { x: "x", y: "y", stroke: COLORS.black, strokeWidth: 0.9, strokeDasharray: "3,2.6", clip: true }),
      Plot.dot(rebuilt.filter(d => d.x >= 180), { x: "x", y: "y", symbol: "square", r: 1.35, fill: "#111", clip: true }),
      ...seriesMarks,
      Plot.frame({ stroke: "#262626", strokeWidth: 0.6 }),
      Plot.axisX({ ticks: xTicks, tickSize: 0, tickPadding: 6, tickFormat: d => String(d), label: null }),
      Plot.axisX({ ticks: xTicks, anchor: "bottom", tickSize: -2.5, strokeWidth: 0.6, fill: "none", label: null }),
      Plot.axisX({ ticks: xTicks, anchor: "top", tickSize: -2.5, strokeWidth: 0.6, fill: "none", label: null }),
      Plot.axisY({ ticks: yTicks, tickSize: 0, tickPadding: 5, tickFormat: d => String(Math.round(Math.log10(d))), label: null }),
      Plot.axisY({ ticks: yTicks, anchor: "left", tickSize: -2.5, strokeWidth: 0.6, fill: "none", label: null }),
      Plot.axisY({ ticks: yTicks, anchor: "right", tickSize: -2.5, strokeWidth: 0.6, fill: "none", label: null })
    ]
  });

  // y tick labels as powers of ten
  d3.select(chart).selectAll('g[aria-label="y-axis tick label"] text').each(function () {
    const e = this.textContent;
    const t = d3.select(this);
    t.text(null);
    t.append("tspan").text("10");
    t.append("tspan").attr("dy", "-0.5em").attr("font-size", "5px").text(e);
  });

  const cell = document.createElement("div");
  cell.className = "cell";
  cell.style.left = (p.col * 181) + "px";
  cell.style.top = (p.row * 185) + "px";
  cell.appendChild(chart);
  cell.insertAdjacentHTML("beforeend",
    `<div class="ylab">rel <i>L</i><span class="sub">2</span> error over test set</div>` +
    `<div class="xlab">#sensor samples for updating</div>` +
    `<div class="cap"><b>${p.tag}</b> sensor rate <i>ρ</i><span class="sup">basis</span> = ${p.rate}</div>` +
    `<div class="legend">${legendSvg(p.series)}</div>`);
  fig.appendChild(cell);
}
</script>
</body>
</html>
